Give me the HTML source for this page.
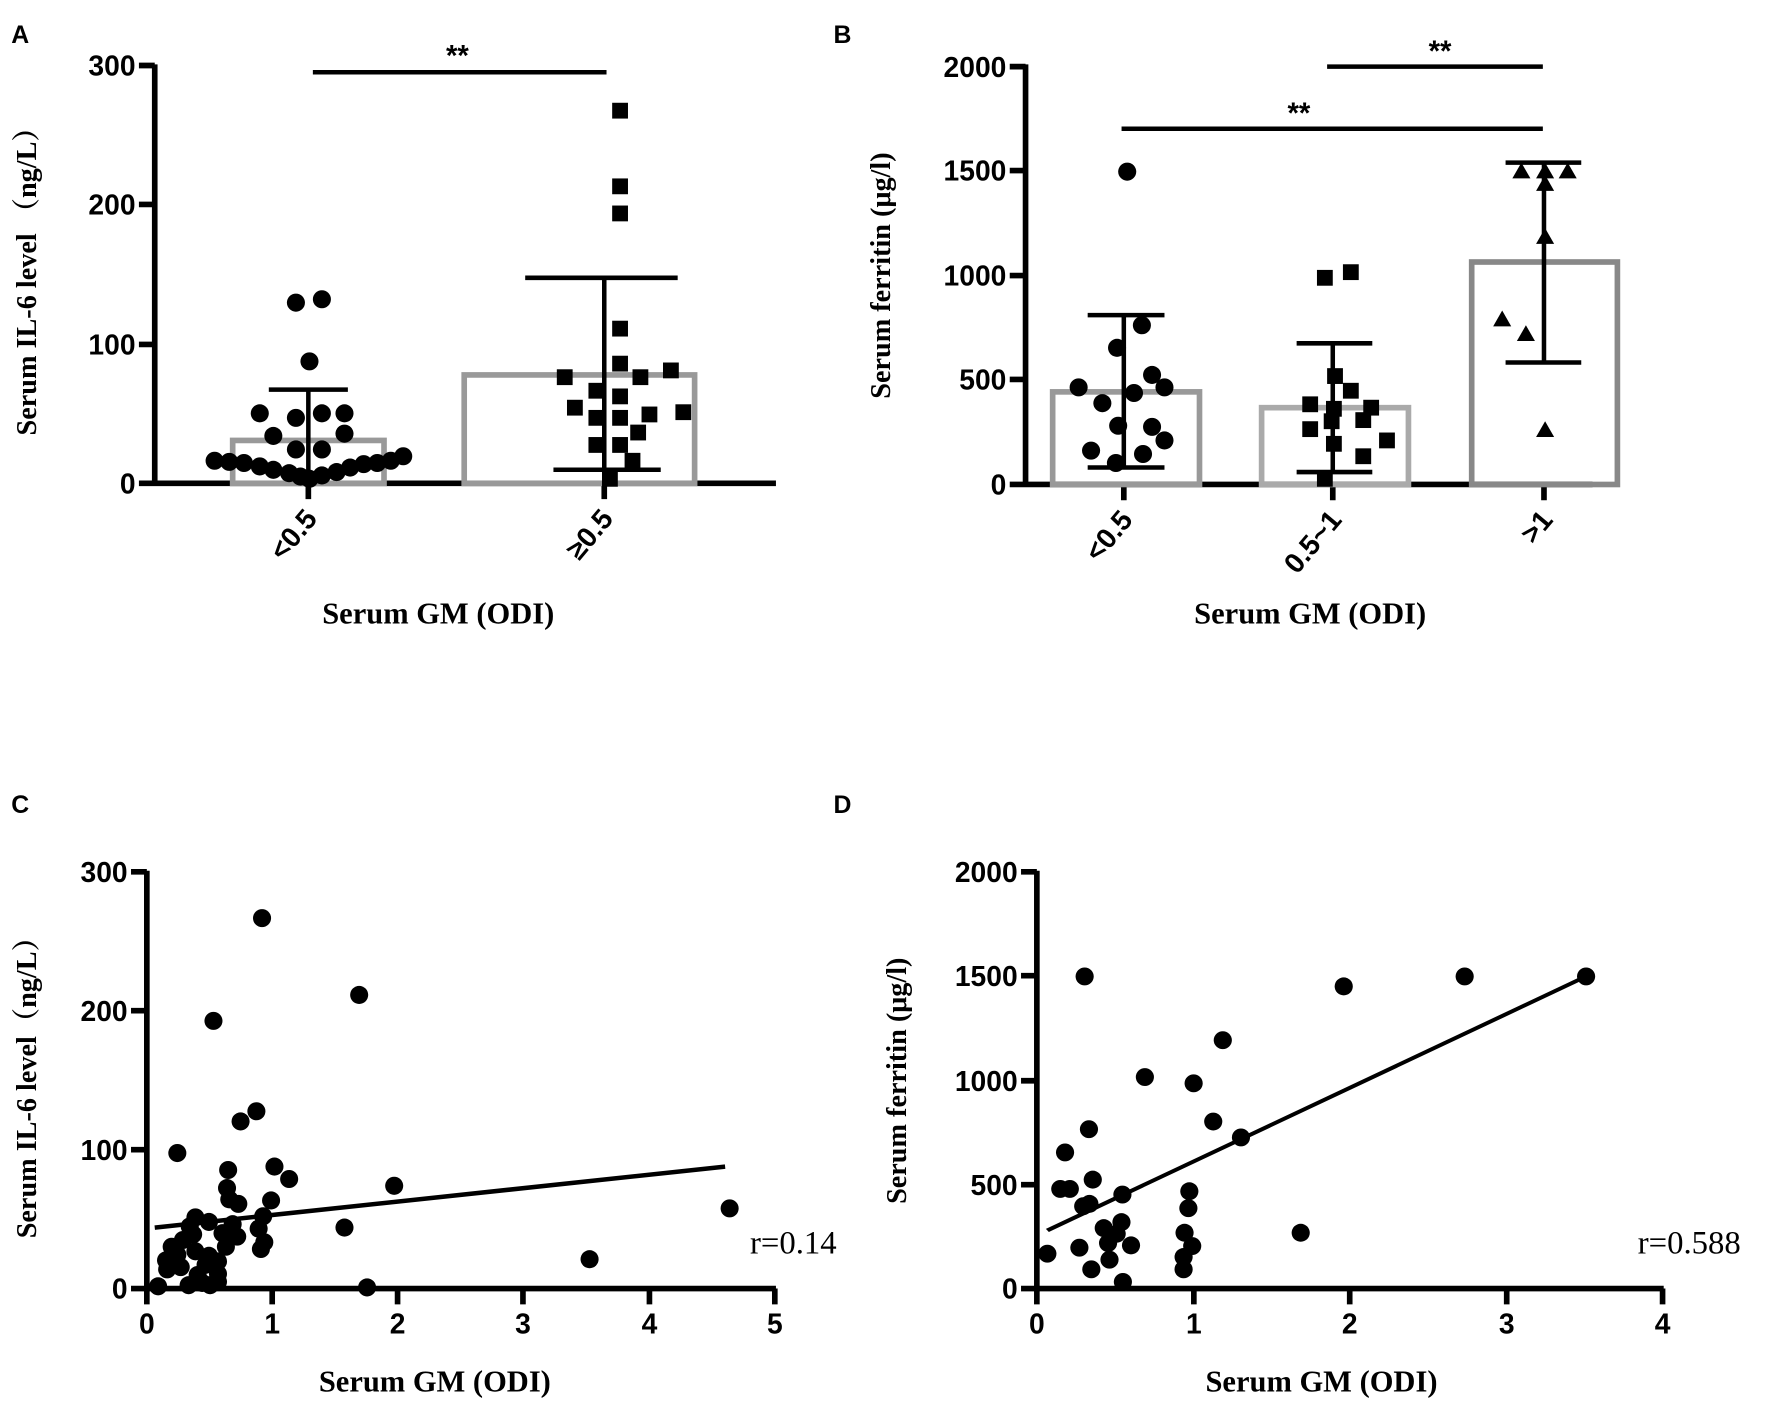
<!DOCTYPE html>
<html><head><meta charset="utf-8"><style>
html,body{margin:0;padding:0;background:#fff;}
svg{display:block;}
.t{font-family:"Liberation Sans",Arial,sans-serif;font-weight:bold;font-size:25px;fill:#000;}
.s{font-family:"Liberation Serif","Noto Serif CJK SC",serif;font-weight:bold;font-size:25px;fill:#000;}
.p{font-family:"Liberation Sans",sans-serif;font-weight:bold;font-size:22px;}
</style></head><body>
<svg width="1771" height="1406" viewBox="0 0 1568 1245" preserveAspectRatio="none" xmlns="http://www.w3.org/2000/svg">
<g stroke="#000" stroke-width="5" fill="none">
<path d="M137 57V430M123 58H137M123 181H137M123 305H137M123 428H137M135 428H687M273 428V442M535 428V442"/>
</g>
<text class="p" x="10" y="38">A</text>
<g class="t" text-anchor="end"><text x="120" y="67">300</text><text x="120" y="190">200</text><text x="120" y="314">100</text><text x="120" y="437">0</text></g>
<g fill="none" stroke="#999" stroke-width="5"><rect x="206" y="390" width="134" height="38"/><rect x="411" y="332" width="204" height="96"/></g>
<g stroke="#000" stroke-width="4"><path d="M273 428V345M238 345H308M535 416V246M465 246H600M490 416H585M277 64H537"/></g>
<text class="t" x="405" y="58" text-anchor="middle" style="font-size:26px">**</text>
<g fill="#000">
<circle cx="262" cy="268" r="8"/><circle cx="285" cy="265" r="8"/><circle cx="274" cy="320" r="8"/><circle cx="230" cy="366" r="8"/><circle cx="262" cy="370" r="8"/><circle cx="285" cy="366" r="8"/><circle cx="305" cy="366" r="8"/><circle cx="242" cy="386" r="8"/><circle cx="262" cy="398" r="8"/><circle cx="285" cy="398" r="8"/><circle cx="305" cy="384" r="8"/><circle cx="190" cy="408" r="8"/><circle cx="203" cy="409" r="8"/><circle cx="216" cy="410" r="8"/><circle cx="230" cy="413" r="8"/><circle cx="242" cy="416" r="8"/><circle cx="256" cy="419" r="8"/><circle cx="266" cy="422" r="8"/><circle cx="274" cy="424" r="8"/><circle cx="285" cy="421" r="8"/><circle cx="298" cy="418" r="8"/><circle cx="310" cy="414" r="8"/><circle cx="322" cy="411" r="8"/><circle cx="334" cy="410" r="8"/><circle cx="346" cy="408" r="8"/><circle cx="357" cy="404" r="8"/>
</g>
<g fill="#000" transform="translate(-7,-7)">
<rect x="549" y="98" width="14" height="14"/><rect x="549" y="165" width="14" height="14"/><rect x="549" y="189" width="14" height="14"/><rect x="549" y="291" width="14" height="14"/><rect x="549" y="322" width="14" height="14"/><rect x="500" y="334" width="14" height="14"/><rect x="528" y="346" width="14" height="14"/><rect x="549" y="351" width="14" height="14"/><rect x="567" y="334" width="14" height="14"/><rect x="594" y="328" width="14" height="14"/><rect x="509" y="361" width="14" height="14"/><rect x="528" y="370" width="14" height="14"/><rect x="549" y="370" width="14" height="14"/><rect x="575" y="367" width="14" height="14"/><rect x="605" y="365" width="14" height="14"/><rect x="565" y="383" width="14" height="14"/><rect x="528" y="394" width="14" height="14"/><rect x="549" y="394" width="14" height="14"/><rect x="560" y="408" width="14" height="14"/><rect x="540" y="424" width="14" height="14"/>
</g>
<text class="t" transform="translate(282,460) rotate(-50)" text-anchor="end">&lt;0.5</text>
<text class="t" transform="translate(544,460) rotate(-50)" text-anchor="end">≥0.5</text>
<text class="s" x="388" y="552" text-anchor="middle" style="font-size:27px">Serum GM (ODI)</text>
<text class="s" transform="translate(32,243) rotate(-90)" text-anchor="middle">Serum IL-6 level （ng/L）</text>

<text class="p" x="738" y="38">B</text>
<g stroke="#000" stroke-width="5" fill="none">
<path d="M908 57V431M894 59H908M894 151H908M894 244H908M894 336H908M894 429H908M906 429H1410M995 429V443M1180 429V443M1367 429V443"/>
</g>
<g class="t" text-anchor="end"><text x="891" y="68">2000</text><text x="891" y="160">1500</text><text x="891" y="253">1000</text><text x="891" y="345">500</text><text x="891" y="438">0</text></g>
<g fill="none" stroke-width="5"><rect x="932" y="347" width="130" height="82" stroke="#999"/><rect x="1117" y="361" width="130" height="68" stroke="#aaa"/><rect x="1303" y="232" width="129" height="197" stroke="#888"/></g>
<g stroke="#000" stroke-width="4"><path d="M995 414V279M963 279H1031M963 414H1031M1180 418V304M1148 304H1215M1148 418H1215M1367 321V144M1333 144H1400M1333 321H1400M1175 59H1366M993 114H1366"/></g>
<text class="t" x="1275" y="54" text-anchor="middle" style="font-size:26px">**</text>
<text class="t" x="1150" y="109" text-anchor="middle" style="font-size:26px">**</text>
<g fill="#000">
<circle cx="998" cy="152" r="8"/><circle cx="1011" cy="288" r="8"/><circle cx="989" cy="308" r="8"/><circle cx="955" cy="343" r="8"/><circle cx="1020" cy="332" r="8"/><circle cx="976" cy="357" r="8"/><circle cx="1004" cy="348" r="8"/><circle cx="1031" cy="343" r="8"/><circle cx="990" cy="377" r="8"/><circle cx="1020" cy="378" r="8"/><circle cx="1031" cy="390" r="8"/><circle cx="966" cy="399" r="8"/><circle cx="1012" cy="402" r="8"/><circle cx="988" cy="410" r="8"/>
</g>
<g fill="#000" transform="translate(-7,-7)">
<rect x="1173" y="246" width="14" height="14"/><rect x="1196" y="241" width="14" height="14"/><rect x="1182" y="333" width="14" height="14"/><rect x="1160" y="358" width="14" height="14"/><rect x="1196" y="346" width="14" height="14"/><rect x="1181" y="362" width="14" height="14"/><rect x="1214" y="361" width="14" height="14"/><rect x="1160" y="380" width="14" height="14"/><rect x="1179" y="373" width="14" height="14"/><rect x="1207" y="372" width="14" height="14"/><rect x="1228" y="390" width="14" height="14"/><rect x="1181" y="393" width="14" height="14"/><rect x="1207" y="404" width="14" height="14"/><rect x="1173" y="424" width="14" height="14"/>
</g>
<g fill="#000">
<path d="M1347 144l8 14h-16z"/><path d="M1368 144l8 14h-16z"/><path d="M1388 144l8 14h-16z"/><path d="M1368 155l8 14h-16z"/><path d="M1368 202l8 14h-16z"/><path d="M1330 275l8 14h-16z"/><path d="M1351 288l8 14h-16z"/><path d="M1368 373l8 14h-16z"/>
</g>
<text class="t" transform="translate(1004,461) rotate(-50)" text-anchor="end">&lt;0.5</text>
<text class="t" transform="translate(1189,461) rotate(-50)" text-anchor="end">0.5~1</text>
<text class="t" transform="translate(1376,461) rotate(-50)" text-anchor="end">&gt;1</text>
<text class="s" x="1160" y="552" text-anchor="middle" style="font-size:27px">Serum GM (ODI)</text>
<text class="s" transform="translate(788,244) rotate(-90)" text-anchor="middle">Serum ferritin (μg/l)</text>

<text class="p" x="10" y="720">C</text>
<g stroke="#000" stroke-width="5" fill="none">
<path d="M130 771V1143M116 772H130M116 895H130M116 1018H130M116 1141H130M128 1141H687M130 1141V1155M241 1141V1155M352 1141V1155M463 1141V1155M575 1141V1155M686 1141V1155"/>
<path d="M137 1087L642 1033" stroke-width="4"/>
</g>
<g class="t" text-anchor="end"><text x="113" y="781">300</text><text x="113" y="904">200</text><text x="113" y="1027">100</text><text x="113" y="1150">0</text></g>
<g class="t" text-anchor="middle"><text x="130" y="1181">0</text><text x="241" y="1181">1</text><text x="352" y="1181">2</text><text x="463" y="1181">3</text><text x="575" y="1181">4</text><text x="686" y="1181">5</text></g>
<g fill="#000">
<circle cx="232" cy="813" r="8"/><circle cx="318" cy="881" r="8"/><circle cx="189" cy="904" r="8"/><circle cx="227" cy="984" r="8"/><circle cx="213" cy="993" r="8"/><circle cx="157" cy="1021" r="8"/><circle cx="243" cy="1033" r="8"/><circle cx="202" cy="1036" r="8"/><circle cx="256" cy="1044" r="8"/><circle cx="349" cy="1050" r="8"/><circle cx="201" cy="1052" r="8"/><circle cx="240" cy="1063" r="8"/><circle cx="203" cy="1062" r="8"/><circle cx="233" cy="1077" r="8"/><circle cx="305" cy="1087" r="8"/><circle cx="229" cy="1088" r="8"/><circle cx="173" cy="1078" r="8"/><circle cx="185" cy="1082" r="8"/><circle cx="206" cy="1084" r="8"/><circle cx="234" cy="1100" r="8"/><circle cx="231" cy="1106" r="8"/><circle cx="173" cy="1108" r="8"/><circle cx="185" cy="1112" r="8"/><circle cx="157" cy="1111" r="8"/><circle cx="147" cy="1116" r="8"/><circle cx="148" cy="1124" r="8"/><circle cx="160" cy="1122" r="8"/><circle cx="182" cy="1120" r="8"/><circle cx="193" cy="1117" r="8"/><circle cx="193" cy="1128" r="8"/><circle cx="175" cy="1129" r="8"/><circle cx="167" cy="1138" r="8"/><circle cx="179" cy="1136" r="8"/><circle cx="186" cy="1138" r="8"/><circle cx="140" cy="1139" r="8"/><circle cx="325" cy="1140" r="8"/><circle cx="522" cy="1115" r="8"/><circle cx="646" cy="1070" r="8"/><circle cx="211" cy="1066" r="8"/><circle cx="162" cy="1098" r="8"/><circle cx="152" cy="1104" r="8"/><circle cx="171" cy="1093" r="8"/><circle cx="168" cy="1086" r="8"/><circle cx="197" cy="1092" r="8"/><circle cx="200" cy="1104" r="8"/><circle cx="210" cy="1095" r="8"/><circle cx="193" cy="1135" r="8"/>
</g>
<text x="664" y="1110" style="font-family:'Liberation Serif',serif;font-size:29px">r=0.14</text>
<text class="s" x="385" y="1232" text-anchor="middle" style="font-size:27px">Serum GM (ODI)</text>
<text class="s" transform="translate(32,957) rotate(-90)" text-anchor="middle">Serum IL-6 level（ng/L）</text>

<text class="p" x="738" y="720">D</text>
<g stroke="#000" stroke-width="5" fill="none">
<path d="M918 771V1143M904 772H918M904 864H918M904 957H918M904 1049H918M904 1141H918M916 1141H1473M918 1141V1155M1057 1141V1155M1195 1141V1155M1334 1141V1155M1472 1141V1155"/>
</g>
<g class="t" text-anchor="end"><text x="901" y="781">2000</text><text x="901" y="873">1500</text><text x="901" y="966">1000</text><text x="901" y="1058">500</text><text x="901" y="1150">0</text></g>
<g class="t" text-anchor="middle"><text x="918" y="1181">0</text><text x="1057" y="1181">1</text><text x="1195" y="1181">2</text><text x="1334" y="1181">3</text><text x="1472" y="1181">4</text></g>
<g transform="translate(918,772) scale(0.42322,0.29402) translate(-38,-65)">
<path d="M60 1145L1187 380" stroke="#000" stroke-width="11" fill="none"/>
<g fill="#000">
<ellipse cx="138" cy="380" rx="19" ry="27"/><ellipse cx="680" cy="410" rx="19" ry="27"/><ellipse cx="933" cy="380" rx="19" ry="27"/><ellipse cx="1187" cy="380" rx="19" ry="27"/><ellipse cx="427" cy="572" rx="19" ry="27"/><ellipse cx="264" cy="683" rx="19" ry="27"/><ellipse cx="366" cy="702" rx="19" ry="27"/><ellipse cx="407" cy="817" rx="19" ry="27"/><ellipse cx="465" cy="865" rx="19" ry="27"/><ellipse cx="147" cy="840" rx="19" ry="27"/><ellipse cx="97" cy="910" rx="19" ry="27"/><ellipse cx="155" cy="992" rx="19" ry="27"/><ellipse cx="87" cy="1020" rx="19" ry="27"/><ellipse cx="107" cy="1020" rx="19" ry="27"/><ellipse cx="217" cy="1037" rx="19" ry="27"/><ellipse cx="135" cy="1072" rx="19" ry="27"/><ellipse cx="148" cy="1065" rx="19" ry="27"/><ellipse cx="357" cy="1027" rx="19" ry="27"/><ellipse cx="355" cy="1078" rx="19" ry="27"/><ellipse cx="178" cy="1138" rx="19" ry="27"/><ellipse cx="215" cy="1120" rx="19" ry="27"/><ellipse cx="205" cy="1155" rx="19" ry="27"/><ellipse cx="187" cy="1183" rx="19" ry="27"/><ellipse cx="235" cy="1190" rx="19" ry="27"/><ellipse cx="127" cy="1197" rx="19" ry="27"/><ellipse cx="60" cy="1215" rx="19" ry="27"/><ellipse cx="190" cy="1233" rx="19" ry="27"/><ellipse cx="152" cy="1262" rx="19" ry="27"/><ellipse cx="218" cy="1300" rx="19" ry="27"/><ellipse cx="347" cy="1152" rx="19" ry="27"/><ellipse cx="363" cy="1192" rx="19" ry="27"/><ellipse cx="345" cy="1225" rx="19" ry="27"/><ellipse cx="345" cy="1262" rx="19" ry="27"/><ellipse cx="590" cy="1152" rx="19" ry="27"/>
</g></g>
<text x="1450" y="1110" style="font-family:'Liberation Serif',serif;font-size:29px">r=0.588</text>
<text class="s" x="1170" y="1232" text-anchor="middle" style="font-size:27px">Serum GM (ODI)</text>
<text class="s" transform="translate(802,957) rotate(-90)" text-anchor="middle">Serum ferritin (μg/l)</text>
</svg>
</body></html>
